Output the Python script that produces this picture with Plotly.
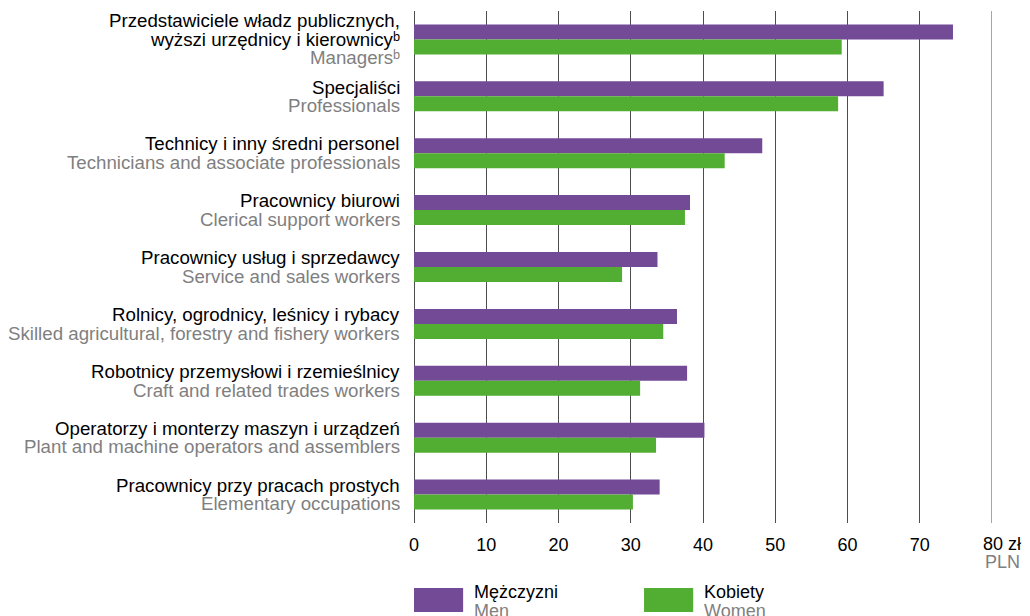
import plotly.graph_objects as go

# occupation groups (Polish / English) and hourly earnings in PLN
labels_pl = [
    "Przedstawiciele władz publicznych,<br>wyższi urzędnicy i kierownicyᵇ",
    "Specjaliści",
    "Technicy i inny średni personel",
    "Pracownicy biurowi",
    "Pracownicy usług i sprzedawcy",
    "Rolnicy, ogrodnicy, leśnicy i rybacy",
    "Robotnicy przemysłowi i rzemieślnicy",
    "Operatorzy i monterzy maszyn i urządzeń",
    "Pracownicy przy pracach prostych",
]
labels_en = [
    "Managersᵇ",
    "Professionals",
    "Technicians and associate professionals",
    "Clerical support workers",
    "Service and sales workers",
    "Skilled agricultural, forestry and fishery workers",
    "Craft and related trades workers",
    "Plant and machine operators and assemblers",
    "Elementary occupations",
]
men = [74.6, 65.0, 48.2, 38.2, 33.7, 36.4, 37.8, 40.2, 34.0]
women = [59.2, 58.7, 43.0, 37.5, 28.8, 34.5, 31.3, 33.5, 30.3]
x_ticks = [0, 10, 20, 30, 40, 50, 60, 70, 80]

PURPLE = "#734a96"
GREEN = "#52ae32"
GREY = "#7f7f7f"
FONT = "Liberation Sans, Arial, sans-serif"
FS = 18
FS_LAB = 18.7

pos = list(range(len(men)))

fig = go.Figure()
fig.add_trace(go.Bar(y=pos, x=men, orientation="h", name="Mężczyzni",
                     marker=dict(color=PURPLE, line=dict(width=0))))
fig.add_trace(go.Bar(y=pos, x=women, orientation="h", name="Kobiety",
                     marker=dict(color=GREEN, line=dict(width=0))))

annotations = []
line_gap = 18.5
for i in pos:
    lines = [(t, "black") for t in labels_pl[i].split("<br>")] + [(labels_en[i], GREY)]
    n = len(lines)
    for k, (txt, col) in enumerate(lines):
        shift = ((n - 1) / 2 - k) * line_gap
        annotations.append(dict(
            xref="paper", yref="y", x=0, y=i, xanchor="right", yanchor="middle",
            xshift=-12, yshift=shift, text=txt, showarrow=False,
            font=dict(size=FS_LAB, color=col, family=FONT)))

# unit labels at the end of the axis
annotations.append(dict(xref="x", yref="paper", x=80, y=0, xanchor="left", yanchor="middle",
                        xshift=-11, yshift=-21, text="80 zł", showarrow=False,
                        font=dict(size=FS, color="black", family=FONT)))
annotations.append(dict(xref="x", yref="paper", x=80, y=0, xanchor="left", yanchor="middle",
                        xshift=-9, yshift=-39, text="PLN", showarrow=False,
                        font=dict(size=FS, color=GREY, family=FONT)))

# legend drawn by hand
legend_items = [("Mężczyzni", "Men", PURPLE, 0.0), ("Kobiety", "Women", GREEN, 0.398)]
shapes = []
for pl, en, col, x0 in legend_items:
    shapes.append(dict(type="rect", xref="paper", yref="paper", x0=x0, x1=x0 + 0.085,
                       y0=-0.174, y1=-0.127, fillcolor=col, line=dict(width=0)))
    annotations.append(dict(xref="paper", yref="paper", x=x0 + 0.1, y=-0.135,
                            xanchor="left", yanchor="middle", text=pl, showarrow=False,
                            font=dict(size=FS, color="black", family=FONT)))
    annotations.append(dict(xref="paper", yref="paper", x=x0 + 0.1, y=-0.171,
                            xanchor="left", yanchor="middle", text=en, showarrow=False,
                            font=dict(size=FS, color=GREY, family=FONT)))

# page body has an 8px margin, so the figure is 8px smaller than the window
fig.update_layout(
    width=1022, height=608,
    margin=dict(l=406, r=38, t=3, b=93),
    paper_bgcolor="white", plot_bgcolor="white",
    barmode="group", bargap=0.473, bargroupgap=0,
    showlegend=False,
    font=dict(family=FONT, size=FS, color="black"),
    xaxis=dict(range=[0, 80], tickvals=x_ticks[:-1], ticktext=[str(v) for v in x_ticks[:-1]],
               showgrid=True, gridcolor="#4d4d4d", gridwidth=1,
               zeroline=True, zerolinecolor="#4d4d4d", zerolinewidth=1,
               showline=False, ticks="", ticklabelstandoff=9,
               tickfont=dict(size=FS, color="black")),
    yaxis=dict(range=[8.5, -0.5], showticklabels=False, showgrid=False,
               zeroline=False, showline=False, ticks=""),
    annotations=annotations,
    shapes=shapes,
)
# gridline at 80 (edge of plot)
fig.add_vline(x=80, line=dict(color="#4d4d4d", width=1))

fig.write_html("out.html")
